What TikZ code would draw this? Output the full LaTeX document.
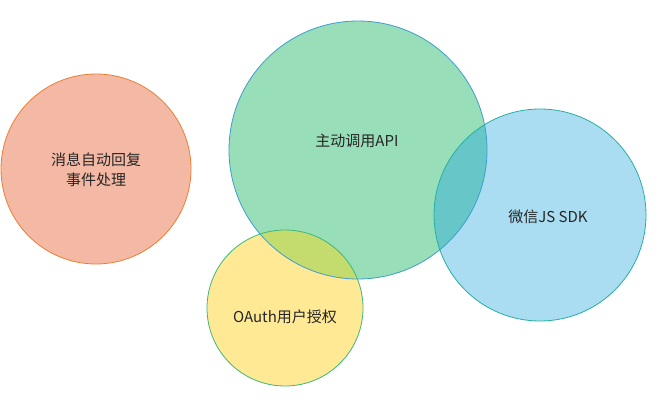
\documentclass[tikz,border=0pt]{standalone}
\usepackage{fontspec}
\setmainfont{Noto Sans CJK SC}
\begin{document}
\begin{tikzpicture}[x=1pt,y=-1pt,
  lbl/.style={font=\fontsize{15}{20}\selectfont, text=black!85, align=center}]
\useasboundingbox (0,0) rectangle (659,409);
\definecolor{ofill}{HTML}{F4B9A4}\definecolor{oline}{HTML}{ED7D31}
\definecolor{gfill}{HTML}{98DEB9}\definecolor{gline}{HTML}{3C9ED0}
\definecolor{bfill}{HTML}{AADDF1}\definecolor{bline}{HTML}{26B0A2}
\definecolor{yfill}{HTML}{FFE994}\definecolor{yline}{HTML}{3CB87A}
\definecolor{gyfill}{HTML}{C4DC6E}\definecolor{gbfill}{HTML}{66C6C8}
% fills
\fill[ofill] (96,169) circle (95);
\fill[gfill] (358,150) circle (129);
\fill[bfill] (540,215) circle (106);
\fill[yfill] (285,308) circle (78);
\begin{scope}\clip (358,150) circle (129); \fill[gyfill] (285,308) circle (78); \end{scope}
\begin{scope}\clip (358,150) circle (129); \fill[gbfill] (540,215) circle (106); \end{scope}
% borders
\draw[oline, line width=0.8] (96,169) circle (95);
\draw[gline, line width=0.8] (358,150) circle (129);
\draw[bline, line width=0.8] (540,215) circle (106);
\draw[yline, line width=0.8] (285,308) circle (78);
% labels
\node[lbl] (msg) at (96,170) {消息自动回复\\事件处理};
\node[lbl] (api) at (357,141) {主动调用API};
\node[lbl] (sdk) at (548,217) {微信JS SDK};
\node[lbl] (oauth) at (285,317) {OAuth用户授权};
\end{tikzpicture}
\end{document}
